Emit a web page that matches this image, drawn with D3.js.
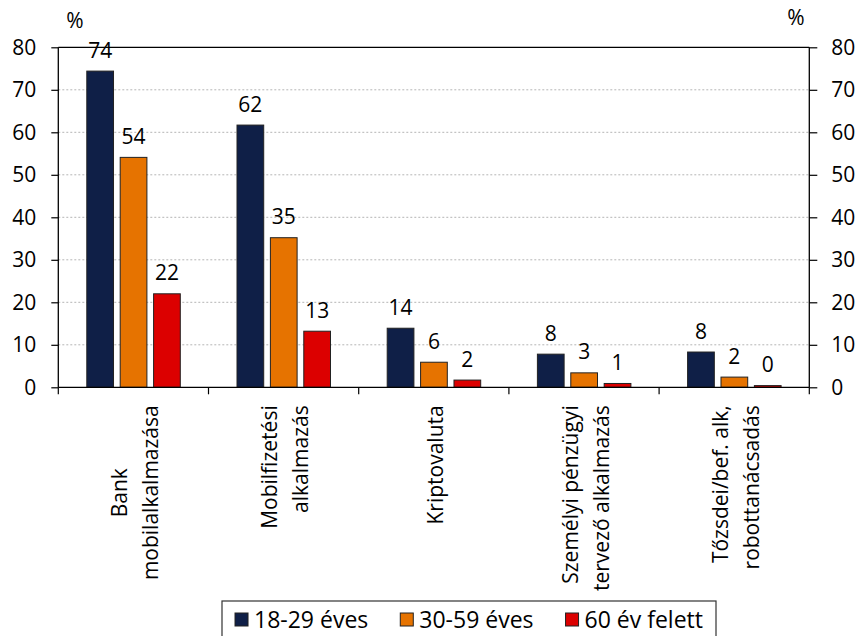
<!DOCTYPE html>
<html>
<head>
<meta charset="utf-8">
<script src="https://cdn.jsdelivr.net/npm/d3@7"></script>
<style>
  body { margin: 0; background: #fff; }
  svg text { font-family: "Open Sans", "Liberation Sans", sans-serif; fill: #000; }
</style>
</head>
<body>
<div id="chart"></div>
<script>
// data
var categories = ["Bank mobilalkalmazása", "Mobilfizetési alkalmazás", "Kriptovaluta",
                  "Személyi pénzügyi tervező alkalmazás", "Tőzsdei/bef. alk, robottanácsadás"];
var catLines = [["Bank", "mobilalkalmazása"], ["Mobilfizetési", "alkalmazás"], ["Kriptovaluta"],
                ["Személyi pénzügyi", "tervező alkalmazás"], ["Tőzsdei/bef. alk,", "robottanácsadás"]];
var catAlign = ["middle", "end", "end", "end", "end"];
var seriesNames = ["18-29 éves", "30-59 éves", "60 év felett"];
var young = [74.4, 61.7, 13.9, 7.8, 8.3];
var middle = [54.1, 35.2, 5.9, 3.4, 2.4];
var old = [22.0, 13.2, 1.7, 0.9, 0.4];
var yTicks = [0, 10, 20, 30, 40, 50, 60, 70, 80];

var colors = ["#0f1f47", "#e67300", "#dc0000"];

var W = 858, H = 636;
var margin = {top: 47.3, left: 58.3, right: 858 - 809.3, bottom: 636 - 387.3};
var width = W - margin.left - margin.right,
    height = H - margin.top - margin.bottom;

var data = categories.map(function(c, i) {
  return {cat: c, lines: catLines[i], align: catAlign[i], values: [young[i], middle[i], old[i]]};
});

var x0 = d3.scaleBand()
    .domain(categories)
    .range([0, width])
    .paddingInner(0)
    .paddingOuter(0);

var x1 = d3.scaleBand()
    .domain([0, 1, 2])
    .range([28.5, 122])
    .paddingInner(0.2);

var y = d3.scaleLinear()
    .domain([0, 80])
    .range([height, 0]);

var svg = d3.select("#chart").append("svg")
    .attr("width", W)
    .attr("height", H)
  .append("g")
    .attr("transform", "translate(" + margin.left + "," + margin.top + ")");

// dotted gridlines
svg.append("g")
  .selectAll("line")
  .data(yTicks.filter(function(d) { return d > 0 && d < 80; }))
  .enter().append("line")
    .attr("x1", 0)
    .attr("x2", width)
    .attr("y1", function(d) { return y(d); })
    .attr("y2", function(d) { return y(d); })
    .attr("stroke", "#b5b5b5")
    .attr("stroke-width", 1)
    .attr("stroke-dasharray", "2,2");

// top frame line
svg.append("line")
    .attr("x1", 0).attr("x2", width)
    .attr("y1", y(80)).attr("y2", y(80))
    .attr("stroke", "#000").attr("stroke-width", 1.3);

// bars
var groups = svg.append("g")
  .selectAll("g")
  .data(data)
  .enter().append("g")
    .attr("transform", function(d) { return "translate(" + x0(d.cat) + ",0)"; });

groups.selectAll("rect")
  .data(function(d) { return d.values; })
  .enter().append("rect")
    .attr("x", function(d, i) { return x1(i); })
    .attr("y", function(d) { return y(d); })
    .attr("width", x1.bandwidth())
    .attr("height", function(d) { return y(0) - y(d); })
    .attr("fill", function(d, i) { return colors[i]; })
    .attr("stroke", "#222")
    .attr("stroke-width", 1);

groups.selectAll("text.val")
  .data(function(d) { return d.values; })
  .enter().append("text")
    .attr("class", "val")
    .attr("x", function(d, i) { return x1(i) + x1.bandwidth() / 2; })
    .attr("y", function(d) { return y(d) - 13.5; })
    .attr("text-anchor", "middle")
    .attr("font-size", "21px")
    .text(function(d) { return Math.round(d); });

// axes
var leftAxis = svg.append("g")
    .call(d3.axisLeft(y).tickValues(yTicks).tickSize(7).tickPadding(15).tickFormat(d3.format("d")));
var rightAxis = svg.append("g")
    .attr("transform", "translate(" + width + ",0)")
    .call(d3.axisRight(y).tickValues(yTicks).tickSize(8).tickPadding(14).tickFormat(d3.format("d")));
[leftAxis, rightAxis].forEach(function(a) {
  a.select(".domain").attr("stroke", "#000").attr("stroke-width", 1.3).attr("d", function() {
    return "M0," + y(80) + "V" + y(0);
  });
  a.selectAll(".tick line").attr("stroke", "#000").attr("stroke-width", 1.2);
  a.selectAll(".tick text").attr("font-size", "21px").attr("fill", "#000")
    .attr("font-family", "'Open Sans', sans-serif");
});

// bottom axis with ticks between categories
var bottom = svg.append("g").attr("transform", "translate(0," + height + ")");
bottom.append("line")
    .attr("x1", 0).attr("x2", width)
    .attr("stroke", "#000").attr("stroke-width", 1.3);
bottom.selectAll("line.sep")
  .data(categories.map(function(c) { return x0(c); }).concat([width]))
  .enter().append("line")
    .attr("class", "sep")
    .attr("x1", function(d) { return d; })
    .attr("x2", function(d) { return d; })
    .attr("y1", 0).attr("y2", 7)
    .attr("stroke", "#000").attr("stroke-width", 1.2);

// category labels, rotated
var lineStep = 31;
var labels = bottom.selectAll("g.cat")
  .data(data)
  .enter().append("g")
    .attr("class", "cat")
    .attr("transform", function(d) {
      return "translate(" + (x0(d.cat) + x0.bandwidth() / 2) + ",18) rotate(-90)";
    });

labels.each(function(d) {
  var g = d3.select(this);
  var n = d.lines.length;
  var texts = g.selectAll("text")
    .data(d.lines)
    .enter().append("text")
      .attr("y", function(t, i) { return (i - (n - 1) / 2) * lineStep + 9; })
      .attr("font-size", "21px")
      .attr("text-anchor", d.align)
      .text(function(t) { return t; });
  if (d.align === "middle") {
    var maxLen = 0;
    texts.each(function() { maxLen = Math.max(maxLen, this.getComputedTextLength()); });
    texts.attr("x", -maxLen / 2);
  } else {
    texts.attr("x", 0);
  }
});

// % unit labels
svg.append("text")
    .attr("x", 75 - margin.left).attr("y", 28 - margin.top)
    .attr("text-anchor", "middle").attr("font-size", "21px").text("%");
svg.append("text")
    .attr("x", 796 - margin.left).attr("y", 25 - margin.top)
    .attr("text-anchor", "middle").attr("font-size", "21px").text("%");

// legend
var root = d3.select("#chart svg");
var legend = root.append("g");
legend.append("rect")
    .attr("x", 222).attr("y", 601)
    .attr("width", 494).attr("height", 45)
    .attr("fill", "#fff").attr("stroke", "#333").attr("stroke-width", 1.2);

var items = legend.selectAll("g.item")
  .data(seriesNames)
  .enter().append("g")
    .attr("class", "item");
items.append("rect")
    .attr("width", 13).attr("height", 13)
    .attr("y", 613)
    .attr("fill", function(d, i) { return colors[i]; })
    .attr("stroke", "#222").attr("stroke-width", 1);
items.append("text")
    .attr("y", 628)
    .attr("font-size", "23px")
    .text(function(d) { return d; });

var lens = [];
items.select("text").each(function() { lens.push(this.getComputedTextLength()); });
var gapIn = 6, gapOut = 32;
var total = d3.sum(lens) + lens.length * (13 + gapIn) + (lens.length - 1) * gapOut;
var cx = 222 + (494 - total) / 2;
items.each(function(d, i) {
  var g = d3.select(this);
  g.select("rect").attr("x", cx);
  g.select("text").attr("x", cx + 13 + gapIn);
  cx += 13 + gapIn + lens[i] + gapOut;
});
</script>
</body>
</html>
